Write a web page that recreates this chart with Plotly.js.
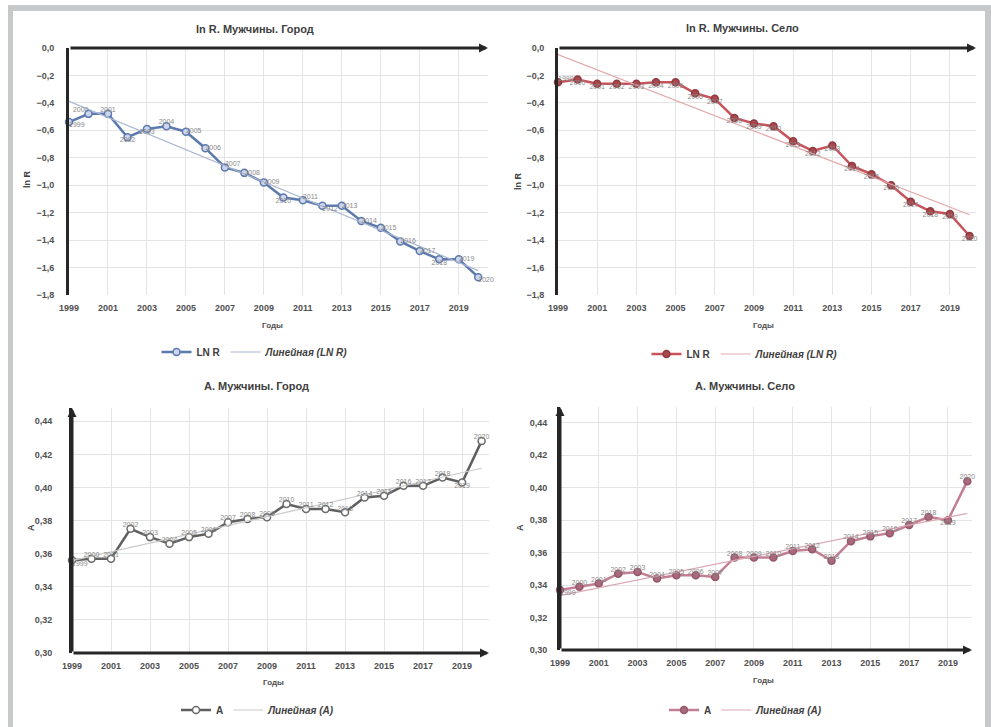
<!DOCTYPE html>
<html>
<head>
<meta charset="utf-8">
<script src="https://cdn.plot.ly/plotly-3.0.1.min.js"></script>
<style>
html,body{margin:0;padding:0;background:#fff;}
#chart{width:991px;height:727px;}
</style>
</head>
<body>
<div id="chart"></div>
<script>
// ---------- DATA ----------
const years = [1999,2000,2001,2002,2003,2004,2005,2006,2007,2008,2009,2010,2011,2012,2013,2014,2015,2016,2017,2018,2019,2020];
const yearLabels = ['1999','2000','2001','2002','2003','2004','2005','2006','2007','2008','2009','2010','2011','2012','2013','2014','2015','2016','2017','2018','2019','2020'];
const lnR_city = [-0.54,-0.48,-0.48,-0.65,-0.59,-0.57,-0.61,-0.73,-0.87,-0.91,-0.98,-1.09,-1.11,-1.15,-1.15,-1.26,-1.31,-1.41,-1.48,-1.54,-1.54,-1.67];
const lnR_village = [-0.25,-0.23,-0.26,-0.26,-0.26,-0.25,-0.25,-0.33,-0.37,-0.51,-0.55,-0.57,-0.68,-0.75,-0.71,-0.86,-0.92,-1.00,-1.12,-1.19,-1.21,-1.37];
const A_city = [0.356,0.357,0.357,0.375,0.370,0.366,0.370,0.372,0.379,0.381,0.382,0.390,0.387,0.387,0.385,0.394,0.395,0.401,0.401,0.406,0.403,0.428];
const A_village = [0.337,0.339,0.341,0.347,0.348,0.344,0.346,0.346,0.345,0.357,0.357,0.357,0.361,0.362,0.355,0.367,0.370,0.372,0.377,0.382,0.380,0.404];

const titles = ['ln R. Мужчины. Город','ln R. Мужчины. Село','А. Мужчины. Город','А. Мужчины. Село'];
const yTitles = ['ln R','ln R','А','А'];
const xTitle = 'Годы';
const seriesNames = ['LN R','LN R','A','A'];
const trendNames = ['Линейная (LN R)','Линейная (LN R)','Линейная (A)','Линейная (A)'];

// ---------- STYLE ----------
const W = 991, H = 727;
const px = v => v / W;
const py = v => 1 - v / H;

const posLab1 = ['bottom right','top left','top center','bottom center','bottom center','top center','middle right','middle right','top right','middle right','middle right','bottom center','top right','bottom right','middle right','middle right','middle right','middle right','middle right','bottom center','middle right','bottom right'];
const posLab2 = ['top right'].concat(Array(21).fill('bottom center'));
const posLab3 = ['bottom right'].concat(Array(19).fill('top center')).concat(['bottom center','top center']);
const posLab4 = ['bottom right'].concat(Array(19).fill('top center')).concat(['bottom center','top center']);

// linear least-squares trend (Excel "Линейная" trendline)
function trend(xs, ys) {
  const n = xs.length;
  const mx = xs.reduce((a,b)=>a+b,0)/n, my = ys.reduce((a,b)=>a+b,0)/n;
  let sxy = 0, sxx = 0;
  for (let i=0;i<n;i++){ sxy += (xs[i]-mx)*(ys[i]-my); sxx += (xs[i]-mx)*(xs[i]-mx); }
  const b = sxy/sxx, a = my - b*mx;
  return xs.map(x => a + b*x);
}

const panels = [
  {y: lnR_city, pos: posLab1, line:'#5b79ad', mfill:'#cdd6ec', mline:'#5b79ad', tr:'#aab6d2',
   xd:[69,488], yd:[48,295], xr:[1999,2020.5], yr:[-1.8,0], dt:0.2, fmt:'.1f', top:true, ys:10,
   title:[255,29], ytl:[27,180], xtl:[272,325], leg:[255,352]},
  {y: lnR_village, pos: posLab2, line:'#c9535b', mfill:'#a9484e', mline:'#8e3b40', tr:'#e3a9ab',
   xd:[558,976], yd:[48,295], xr:[1999,2020.33], yr:[-1.8,0], dt:0.2, fmt:'.1f', top:true, ys:9,
   title:[742,28], ytl:[518,182], xtl:[763,326], leg:[745,354]},
  {y: A_city, pos: posLab3, line:'#5f5f5f', mfill:'#ffffff', mline:'#6a6a6a', tr:'#cacaca',
   xd:[72,489], yd:[408,653], xr:[1999,2020.38], yr:[0.30,0.448], dt:0.02, fmt:'.2f', top:false, ys:15,
   title:[256,386], ytl:[31,528], xtl:[273,682], leg:[258,710]},
  {y: A_village, pos: posLab4, line:'#c27f93', mfill:'#a86a7c', mline:'#94586a', tr:'#dba8b5',
   xd:[560,972], yd:[407,650], xr:[1999,2020.24], yr:[0.30,0.4497], dt:0.02, fmt:'.2f', top:false, ys:8,
   title:[745,386], ytl:[520,528], xtl:[763,680], leg:[746,710]}
];

const font = 'Liberation Sans, Arial, sans-serif';
const axisCol = '#262626';
const traces = [];
const layout = {
  width: W, height: H, margin:{l:0,r:0,t:0,b:0},
  paper_bgcolor:'#ffffff', plot_bgcolor:'rgba(0,0,0,0)',
  separators: ', ',
  font:{family:font, color:'#404040'},
  showlegend:true,
  annotations:[], shapes:[]
};

// grey frame around the picture
layout.shapes.push({type:'rect', xref:'paper', yref:'paper', x0:px(8), x1:px(13), y0:0, y1:py(5), fillcolor:'#c6c8ca', line:{width:0}, layer:'below'});
layout.shapes.push({type:'rect', xref:'paper', yref:'paper', x0:px(8), x1:1, y0:py(11), y1:py(5), fillcolor:'#c6c8ca', line:{width:0}, layer:'below'});
layout.shapes.push({type:'rect', xref:'paper', yref:'paper', x0:px(985), x1:1, y0:0, y1:py(5), fillcolor:'#c6c8ca', line:{width:0}, layer:'below'});

panels.forEach((p, i) => {
  const k = i === 0 ? '' : String(i+1);
  const xa = 'x'+k, ya = 'y'+k, lg = i === 0 ? 'legend' : 'legend'+(i+1);
  // main series
  traces.push({
    x: years, y: p.y, xaxis: xa, yaxis: ya, type:'scatter', mode:'lines+markers',
    name: seriesNames[i], legend: lg, cliponaxis:false,
    line:{color:p.line, width:2.5},
    marker:{symbol:'circle', size:7, color:p.mfill, line:{color:p.mline, width:1.5}}
  });
  // linear trend
  traces.push({
    x: years, y: trend(years, p.y), xaxis: xa, yaxis: ya, type:'scatter', mode:'lines',
    name: '<i>'+trendNames[i]+'</i>', legend: lg,
    line:{color:p.tr, width:1.2}
  });
  // year data labels
  traces.push({
    x: years, y: p.y, xaxis: xa, yaxis: ya, type:'scatter', mode:'text',
    text: yearLabels, textposition: p.pos, showlegend:false, cliponaxis:false,
    textfont:{size:7, color:'#8a8a8a', family:font}, hoverinfo:'skip'
  });

  layout['xaxis'+k] = {
    domain:[px(p.xd[0]), px(p.xd[1])], range:p.xr, anchor:ya,
    tick0:1999, dtick:2, showgrid:true, gridcolor:'#e4e4e4', gridwidth:1,
    zeroline:false, showline:false, ticks:'', ticklabelstandoff:6,
    tickfont:{size:9, color:'#505050', weight:'bold'}, fixedrange:true
  };
  layout['yaxis'+k] = {
    domain:[py(p.yd[1]), py(p.yd[0])], range:p.yr, anchor:xa,
    dtick:p.dt, tick0:0, tickformat:p.fmt, showgrid:true, gridcolor:'#e4e4e4', gridwidth:1,
    zeroline:false, showline:true, linewidth:3, linecolor:axisCol, ticks:'', ticklabelstandoff:p.ys,
    tickfont:{size:9, color:'#505050', weight:'bold'}, fixedrange:true
  };

  // x axis line with arrow (at 0 for ln R, at bottom for A)
  const yLine = p.top ? 0 : p.yr[0];
  layout.annotations.push({xref:xa, yref:ya, axref:xa, ayref:ya, x:p.xr[1], y:yLine, ax:p.xr[0], ay:yLine,
    text:'', showarrow:true, arrowhead:2, arrowsize:0.6, arrowwidth:3, arrowcolor:axisCol, standoff:0});
  if (!p.top) {
    layout.annotations.push({xref:xa, yref:ya, axref:xa, ayref:ya, x:p.xr[0], y:p.yr[1], ax:p.xr[0], ay:p.yr[0],
      text:'', showarrow:true, arrowhead:2, arrowsize:0.6, arrowwidth:3, arrowcolor:axisCol, standoff:0});
  }

  // chart title
  layout.annotations.push({xref:'paper', yref:'paper', x:px(p.title[0]), y:py(p.title[1]), xanchor:'center', yanchor:'middle',
    text:'<b>'+titles[i]+'</b>', showarrow:false, font:{size:11, color:'#404040', family:font}});
  // y axis title
  layout.annotations.push({xref:'paper', yref:'paper', x:px(p.ytl[0]), y:py(p.ytl[1]), xanchor:'center', yanchor:'middle',
    text:'<b>'+yTitles[i]+'</b>', textangle:-90, showarrow:false, font:{size:9, color:'#404040', family:font}});
  // x axis title
  layout.annotations.push({xref:'paper', yref:'paper', x:px(p.xtl[0]), y:py(p.xtl[1]), xanchor:'center', yanchor:'middle',
    text:'<b>'+xTitle+'</b>', showarrow:false, font:{size:8, color:'#505050', family:font}});

  layout[lg] = {orientation:'h', x:px(p.leg[0]), y:py(p.leg[1]), xanchor:'center', yanchor:'middle',
    bgcolor:'rgba(0,0,0,0)', font:{size:10, color:'#404040', weight:'bold', family:font},
    itemwidth:30, tracegroupgap:0, itemclick:false, itemdoubleclick:false};
});

Plotly.newPlot('chart', traces, layout, {displayModeBar:false, staticPlot:true});
</script>
</body>
</html>
